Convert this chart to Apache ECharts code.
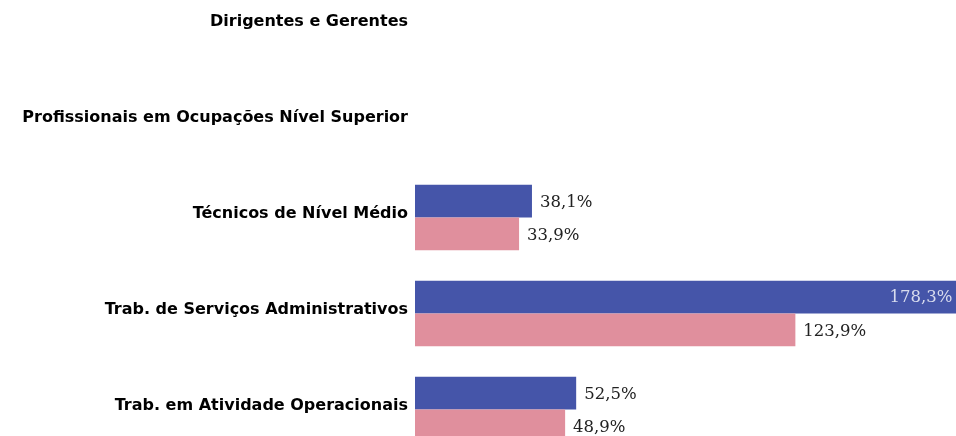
<!DOCTYPE html>
<html><head><meta charset="utf-8">
<script src="https://cdn.jsdelivr.net/npm/echarts@6/dist/echarts.min.js"></script>
<style>html,body{margin:0;padding:0;background:#fff}#c{width:956px;height:436px}</style>
</head><body><div id="c"></div>
<script>
var categories = ["Dirigentes e Gerentes","Profissionais em Ocupações Nível Superior","Técnicos de Nível Médio","Trab. de Serviços Administrativos","Trab. em Atividade Operacionais"];
var seriesA = [null, null, 38.1, 178.3, 52.5];
var seriesB = [null, null, 33.9, 123.9, 48.9];
var xMax = 200;

function fmt(p){ return p.value == null ? '' : String(p.value).replace('.', ',') + '%'; }
var labelBase = {show:true, position:'right', distance:8, formatter:fmt, offset:[0,2],
  fontFamily:'DejaVu Serif', fontSize:16.5, color:'#222'};

var chart = echarts.init(document.getElementById('c'));
chart.setOption({
  animation:false,
  grid:{left:415, top:-22.5, height:480, width:614, containLabel:false, outerBoundsMode:'none'},
  xAxis:{type:'value', min:0, max:xMax, show:false, splitLine:{show:false}},
  yAxis:{type:'category', data:categories, inverse:true,
    axisLine:{show:false}, axisTick:{show:false},
    axisLabel:{margin:7, formatter:function(v){ return '{a|' + v + '}'; },
      rich:{a:{fontFamily:'DejaVu Sans', fontWeight:'bold', fontSize:16, color:'#000', padding:[0,0,7,0]}}}},
  series:[
    {type:'bar', barGap:'0%', barCategoryGap:'32%',
     itemStyle:{color:'#4555A9'}, label:labelBase,
     data:seriesA.map(function(v){
       if (v != null && v > 150) return {value:v, label:{position:'insideRight', distance:10, offset:[0,1], color:'#D8DCEE'}};
       return v;
     })},
    {type:'bar', itemStyle:{color:'#E08F9D'}, label:labelBase, data:seriesB}
  ]
});
</script></body></html>
